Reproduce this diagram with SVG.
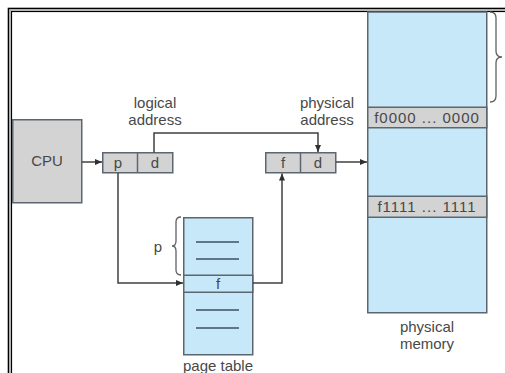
<svg xmlns="http://www.w3.org/2000/svg" width="505" height="373" viewBox="0 0 505 373">
<defs>
<style>
.t{font-family:"Liberation Sans",Arial,sans-serif;font-size:15px;fill:#484848}
.m{font-size:15px;letter-spacing:1px}
.gray{fill:#d3d3d3;stroke:#5c6670;stroke-width:1.5}
.blue{fill:#c6e8f8;stroke:#5c6670;stroke-width:1.5}
.ln{fill:none;stroke:#404040;stroke-width:1.5}
.br{fill:none;stroke:#606060;stroke-width:1.3}
.tl{stroke:#3c5060;stroke-width:1.5}
</style>
<marker id="ah" markerWidth="8" markerHeight="8" refX="7" refY="4" orient="auto" markerUnits="userSpaceOnUse">
<path d="M0,1 L7,4 L0,7 Z" fill="#303030"/>
</marker>
</defs>
<rect width="505" height="373" fill="#fff"/>
<g id="frame">
<rect x="8.5" y="8.5" width="520" height="400" fill="none" stroke="#000" stroke-width="1.6"/>
<rect x="10" y="10" width="520" height="400" fill="none" stroke="#aaa" stroke-width="1.2"/>
<rect x="11.5" y="11.5" width="520" height="400" fill="none" stroke="#000" stroke-width="1.2"/>
</g>
<g id="cpu">
<rect class="gray" x="12.75" y="119.75" width="69" height="83"/>
<text class="t" x="47" y="166" text-anchor="middle">CPU</text>
</g>
<g id="logical">
<rect class="gray" x="102.75" y="152.75" width="70" height="20"/>
<line x1="137.5" y1="152.75" x2="137.5" y2="172.75" stroke="#5c6670" stroke-width="1.5"/>
<text class="t" x="118" y="168" text-anchor="middle">p</text>
<text class="t" x="155" y="168" text-anchor="middle">d</text>
<text class="t" x="155" y="108" text-anchor="middle">logical</text>
<text class="t" x="155" y="125" text-anchor="middle">address</text>
</g>
<g id="physaddr">
<rect class="gray" x="265.75" y="152.75" width="70" height="20"/>
<line x1="300.5" y1="152.75" x2="300.5" y2="172.75" stroke="#5c6670" stroke-width="1.5"/>
<text class="t" x="283" y="168" text-anchor="middle">f</text>
<text class="t" x="318" y="168" text-anchor="middle">d</text>
<text class="t" x="327" y="108" text-anchor="middle">physical</text>
<text class="t" x="327" y="125" text-anchor="middle">address</text>
</g>
<g id="pagetable">
<rect class="blue" x="183.75" y="217.75" width="69" height="137"/>
<rect class="blue" x="183.75" y="275.25" width="69" height="17"/>
<line class="tl" x1="196" y1="242" x2="239" y2="242"/>
<line class="tl" x1="196" y1="259" x2="239" y2="259"/>
<line class="tl" x1="196" y1="310" x2="239" y2="310"/>
<line class="tl" x1="196" y1="328" x2="239" y2="328"/>
<text class="t" x="218" y="289" text-anchor="middle" font-size="13">f</text>
<path class="br" d="M181,217 Q176,217 176,222 L176,241 Q176,246 172,246 Q176,246 176,251 L176,270 Q176,275 181,275"/>
<text class="t" x="158" y="252" text-anchor="middle">p</text>
<text class="t" x="218" y="371" text-anchor="middle">page table</text>
</g>
<g id="memory">
<rect class="blue" x="367.75" y="12" width="119" height="300.75"/>
<rect class="gray" x="367.75" y="107.25" width="119" height="20.5"/>
<rect class="gray" x="367.75" y="196.25" width="119" height="21"/>
<text class="t m" x="427" y="123" text-anchor="middle">f0000 ... 0000</text>
<text class="t m" x="427" y="212" text-anchor="middle">f1111 ... 1111</text>
<path class="br" d="M490,12 Q496,12 496,18 L496,51 Q496,57 502,57 Q496,57 496,63 L496,96 Q496,102 490,102"/>
<text class="t" x="427" y="332" text-anchor="middle">physical</text>
<text class="t" x="427" y="349" text-anchor="middle">memory</text>
</g>
<g id="connectors">
<line class="ln" x1="82" y1="162" x2="102" y2="162" marker-end="url(#ah)"/>
<polyline class="ln" points="154,152.5 154,133 318,133 318,152" marker-end="url(#ah)"/>
<line class="ln" x1="336" y1="162" x2="367" y2="162" marker-end="url(#ah)"/>
<polyline class="ln" points="118,173 118,283 183,283" marker-end="url(#ah)"/>
<polyline class="ln" points="253,283 282,283 282,173.5" marker-end="url(#ah)"/>
</g>
</svg>
